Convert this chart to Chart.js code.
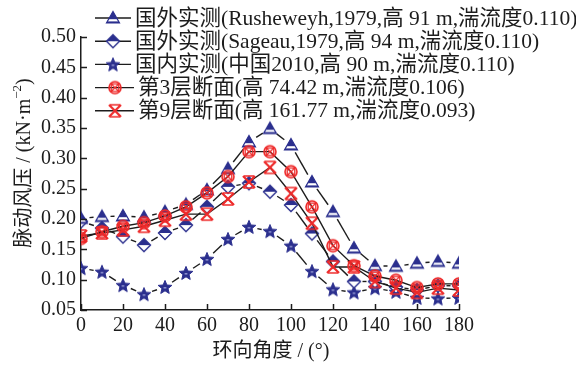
<!DOCTYPE html>
<html><head><meta charset="utf-8">
<script src="https://cdn.jsdelivr.net/npm/chart.js@4/dist/chart.umd.min.js"></script>
<style>html,body{margin:0;padding:0;background:#fff}#wrap{width:576px;height:365px}</style>
</head><body><div id="wrap"><canvas id="c" width="576" height="365"></canvas></div>
<script>
const angles = [0,10,20,30,40,50,60,70,80,90,100,110,120,130,140,150,160,170,180];
const rusheweyh = [0.201,0.204,0.205,0.203,0.212,0.224,0.248,0.283,0.327,0.349,0.322,0.261,0.212,0.152,0.123,0.122,0.127,0.130,0.127];
const sageau = [0.196,0.185,0.171,0.157,0.177,0.190,0.220,0.253,0.259,0.245,0.223,0.176,0.130,0.097,0.097,0.088,0.083,0.090,0.090];
const china2010 = [0.119,0.113,0.091,0.076,0.088,0.111,0.134,0.167,0.187,0.180,0.156,0.114,0.084,0.079,0.086,0.080,0.070,0.069,0.070];
const layer3 = [0.168,0.179,0.188,0.194,0.205,0.220,0.243,0.270,0.311,0.311,0.278,0.220,0.156,0.123,0.106,0.099,0.087,0.093,0.093];
const layer9 = [0.172,0.177,0.182,0.188,0.198,0.208,0.208,0.233,0.261,0.285,0.242,0.193,0.121,0.121,0.097,0.086,0.079,0.086,0.083];
const labels = [
  '国外实测(Rusheweyh,1979,高 91 m,湍流度0.110)',
  '国外实测(Sageau,1979,高 94 m,湍流度0.110)',
  '国内实测(中国2010,高 90 m,湍流度0.110)',
  '第3层断面(高 74.42 m,湍流度0.106)',
  '第9层断面(高 161.77 m,湍流度0.093)'
];
const xTicks = {min:0, max:180, step:20};
const yTicks = {min:0.05, max:0.50, step:0.05};

const BLUE = '#2b2f8e', RED = '#ee2a2a', INK = '#1c1c1c';
const SERIF = '"Liberation Serif","Noto Sans CJK SC",serif';

function mk(draw){const c=document.createElement('canvas');c.width=c.height=18;const g=c.getContext('2d');draw(g);return c;}
const triImg = mk(g=>{
  g.beginPath();g.moveTo(9,2.5);g.lineTo(15.5,14);g.lineTo(2.5,14);g.closePath();
  g.fillStyle=BLUE;g.fill();
  g.save();g.clip();g.fillStyle='#fff';g.fillRect(0,10.2,18,2.2);g.restore();
  g.strokeStyle=BLUE;g.lineWidth=1.2;g.stroke();
});
const diaImg = mk(g=>{
  g.beginPath();g.moveTo(9,2.5);g.lineTo(15.5,9);g.lineTo(9,15.5);g.lineTo(2.5,9);g.closePath();
  g.fillStyle='#fff';g.fill();
  g.save();g.clip();g.fillStyle=BLUE;g.fillRect(0,0,18,9);g.restore();
  g.strokeStyle=BLUE;g.lineWidth=1.4;g.stroke();
});
const starImg = mk(g=>{
  g.beginPath();
  for(let i=0;i<10;i++){const r=i%2?3.2:7.2;const a=-Math.PI/2+i*Math.PI/5;const x=9+r*Math.cos(a),y=9.6+r*Math.sin(a);i?g.lineTo(x,y):g.moveTo(x,y);}
  g.closePath();g.fillStyle=BLUE;g.fill();g.strokeStyle=BLUE;g.lineWidth=1;g.stroke();
  g.fillStyle='rgba(160,165,220,0.8)';g.fillRect(7.6,9,2.8,1.6);
});
const cxImg = mk(g=>{
  g.strokeStyle=RED;g.lineWidth=1.6;
  g.beginPath();g.arc(9,9,6,0,Math.PI*2);g.stroke();
  g.lineWidth=1.3;
  g.strokeRect(5.2,5.2,7.6,7.6);
  g.beginPath();g.moveTo(5.2,5.2);g.lineTo(12.8,12.8);g.moveTo(12.8,5.2);g.lineTo(5.2,12.8);g.stroke();
});
const xImg = mk(g=>{
  g.strokeStyle=RED;g.lineWidth=2.2;
  g.beginPath();g.moveTo(3,3);g.lineTo(15,15);g.moveTo(15,3);g.lineTo(3,15);g.stroke();
  g.lineWidth=1.4;
  g.beginPath();g.moveTo(4,3);g.lineTo(14,3);g.moveTo(4,15);g.lineTo(14,15);g.stroke();
});
const images = [triImg, diaImg, starImg, cxImg, xImg];

const GAP = 8.5;
function gapDash(ctx){
  const p0=ctx.p0,p1=ctx.p1;const L=Math.hypot(p1.x-p0.x,p1.y-p0.y);
  const d=Math.max(L-2*GAP,0.01);
  return [0,GAP,d,GAP+2000];
}
function gapOffset(ctx){return ctx.p0DataIndex*1e-7;}

function ds(i,data,gapped){
  const o={label:labels[i],data:data,pointStyle:images[i],pointRadius:8,pointHoverRadius:8,
    borderColor:INK,borderWidth:1.4,backgroundColor:'transparent',fill:false,tension:0,
    order: gapped?1:0};
  if(gapped){o.segment={borderDash:gapDash,borderDashOffset:gapOffset};}
  return o;
}

const decor = {
  id:'decor',
  afterDraw(chart){
    const g=chart.ctx, a=chart.chartArea, xs=chart.scales.x, ys=chart.scales.y;
    g.save();
    g.strokeStyle=INK;g.lineWidth=1.5;
    g.beginPath();
    xs.ticks.forEach(t=>{const p=Math.round(xs.getPixelForValue(t.value))+0.5;g.moveTo(p,a.bottom);g.lineTo(p,a.bottom-6);});
    ys.ticks.forEach(t=>{const p=Math.round(ys.getPixelForValue(t.value))+0.5;g.moveTo(a.left,p);g.lineTo(a.left+6,p);});
    g.stroke();
    // legend
    g.font='21.5px '+SERIF;g.textBaseline='middle';g.fillStyle=INK;
    chart.data.datasets.forEach((d,i)=>{
      const y=18+i*23.2;
      g.strokeStyle=INK;g.lineWidth=1.4;
      g.beginPath();g.moveTo(95,y);g.lineTo(i<3?131:134,y);g.stroke();
      g.drawImage(images[i],(i<3?113:115)-9,y-9);
      g.fillText(d.label,i<3?135:138,y+1);
    });
    // x title
    g.textAlign='center';g.font='20px '+SERIF;
    g.fillText('环向角度 / (°)',271,352);
    // y title with superscript
    g.translate(25,163);g.rotate(-Math.PI/2);
    const f1='20px '+SERIF,f2='13px '+SERIF;
    const s1='脉动风压 / (kN·m',s2='−2',s3=')';
    g.font=f1;const w1=g.measureText(s1).width,w3=g.measureText(s3).width;
    g.font=f2;const w2=g.measureText(s2).width;
    let x=-(w1+w2+w3)/2;
    g.textAlign='left';
    g.font=f1;g.fillText(s1,x,0);x+=w1;
    g.font=f2;g.fillText(s2,x,-7);x+=w2;
    g.font=f1;g.fillText(s3,x,0);
    g.restore();
  }
};

new Chart(document.getElementById('c'),{
  type:'line',
  data:{labels:angles,datasets:[ds(0,rusheweyh,true),ds(1,sageau,true),ds(2,china2010,true),ds(3,layer3,false),ds(4,layer9,false)]},
  options:{
    responsive:false,animation:false,devicePixelRatio:1,
    layout:{padding:{top:37,right:117,left:0,bottom:0}},
    plugins:{legend:{display:false},tooltip:{enabled:false},title:{display:false}},
    scales:{
      x:{type:'linear',min:xTicks.min,max:xTicks.max,
        ticks:{stepSize:xTicks.step,color:INK,font:{family:SERIF,size:20},padding:4,maxRotation:0},
        grid:{display:false,drawTicks:false},border:{display:true,color:INK,width:1.5},
        afterFit(s){s.height=55;}},
      y:{type:'linear',min:yTicks.min,max:yTicks.max,
        ticks:{stepSize:yTicks.step,color:INK,font:{family:SERIF,size:20},padding:5,
          callback:v=>v.toFixed(2)},
        grid:{display:false,drawTicks:false},border:{display:true,color:INK,width:1.5},
        afterFit(s){s.width=81;}}
    }
  },
  plugins:[decor]
});
</script></body></html>
